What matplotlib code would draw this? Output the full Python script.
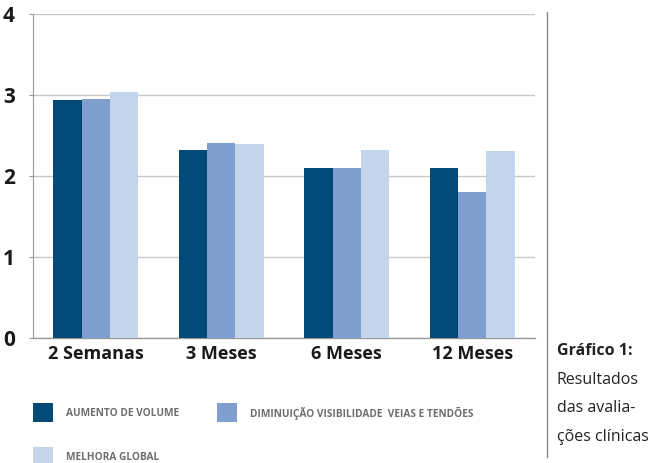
import matplotlib
matplotlib.use("Agg")
import matplotlib.pyplot as plt
from matplotlib.patches import Rectangle
from matplotlib.lines import Line2D
import numpy as np

# =========================
# Data
# =========================
periods = ["2 Semanas", "3 Meses", "6 Meses", "12 Meses"]
aumento_volume = [2.94, 2.32, 2.10, 2.10]
diminuicao_visibilidade = [2.95, 2.41, 2.10, 1.80]
melhora_global = [3.04, 2.40, 2.32, 2.31]

series_labels = [
    "AUMENTO DE VOLUME",
    "DIMINUIÇÃO VISIBILIDADE  VEIAS E TENDÕES",
    "MELHORA GLOBAL",
]
colors = ["#034a78", "#7f9fd0", "#c4d4ea"]

yticks = [0, 1, 2, 3, 4]

# =========================
# Style
# =========================
W, H = 671, 463
DPI = 100
FONT = "Open Sans"
plt.rcParams["font.family"] = [FONT, "DejaVu Sans"]

fig = plt.figure(figsize=(W / DPI, H / DPI), dpi=DPI)
fig.patch.set_facecolor("white")

def fx(px):
    return px / W

def fy(py):
    return 1 - py / H

ax = fig.add_axes([fx(33), fy(338), fx(535) - fx(33), fy(14) - fy(338)])

x = np.arange(len(periods))
bw = 0.225
for i, vals in enumerate([aumento_volume, diminuicao_visibilidade, melhora_global]):
    ax.bar(x + (i - 1) * bw, vals, width=bw, color=colors[i], linewidth=0, zorder=3)

ax.set_xlim(-0.5, len(periods) - 0.5)
ax.set_ylim(0, 4)
ax.set_yticks(yticks)
ax.set_yticklabels([str(t) for t in yticks], fontsize=15, fontweight="bold", color="#1a1a1a")
ax.set_xticks(x)
ax.set_xticklabels(periods, fontsize=13, fontweight="bold", color="#1a1a1a")

ax.yaxis.grid(True, color="#c8c8c8", linewidth=1.0, zorder=0)
ax.set_axisbelow(True)
for s in ["top", "right"]:
    ax.spines[s].set_visible(False)
ax.spines["left"].set_color("#9a9a9a")
ax.spines["left"].set_linewidth(0.8)
ax.spines["bottom"].set_color("#9a9a9a")
ax.spines["bottom"].set_linewidth(1.0)
ax.tick_params(axis="y", length=3, color="#9a9a9a", pad=10)
ax.tick_params(axis="x", length=0, pad=5)

# =========================
# Legend (manual layout)
# =========================
legend_pos = [(33, 403), (217, 403), (33, 447)]
for (lx, ly), c, lab in zip(legend_pos, colors, series_labels):
    fig.patches.append(Rectangle((fx(lx), fy(ly + 19)), fx(20), fy(0) - fy(19),
                                 transform=fig.transFigure, color=c, linewidth=0))
    fig.text(fx(lx + 33), fy(ly + 10), lab, fontsize=7.3, fontweight="bold",
             color="#6e6e6e", va="center", ha="left")

# =========================
# Separator and caption
# =========================
fig.lines.append(Line2D([fx(547), fx(547)], [fy(12), fy(457)],
                        transform=fig.transFigure, color="#8a8a8a", linewidth=1.0))

cap_x = fx(557)
fig.text(cap_x, fy(351), "Gráfico 1:", fontsize=11.5, fontweight="bold",
         color="#222222", va="center", ha="left")
for yy, line in zip([380, 408, 437], ["Resultados", "das avalia-", "ções clínicas"]):
    fig.text(cap_x, fy(yy), line, fontsize=11.5, color="#222222", va="center", ha="left")

fig.savefig("out.png", dpi=DPI)
